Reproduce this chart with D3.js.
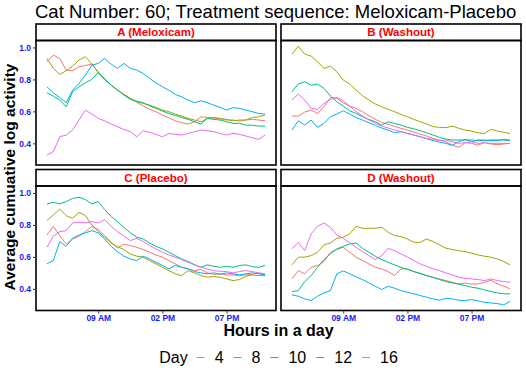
<!DOCTYPE html>
<html>
<head>
<meta charset="utf-8">
<title>Cat 60 activity</title>
<script src="https://cdn.jsdelivr.net/npm/d3@7"></script>
<style>
body { margin: 0; background: #fff; }
svg { font-family: "Liberation Sans", Arial, sans-serif; }
</style>
</head>
<body>
<svg id="chart" width="526" height="372"></svg>
<script>
// half-hourly readings, 05:00 to 22:00
const hours = [5, 5.5, 6, 6.5, 7, 7.5, 8, 8.5, 9, 9.5, 10, 10.5, 11, 11.5, 12, 12.5, 13, 13.5,
  14, 14.5, 15, 15.5, 16, 16.5, 17, 17.5, 18, 18.5, 19, 19.5, 20, 20.5, 21, 21.5, 22];
const days = ["4", "8", "10", "12", "16"];
const dayColours = ["#F8766D", "#A3A500", "#00BF7D", "#00B0F6", "#E76BF3"];
const panelTitles = ["A (Meloxicam)", "B (Washout)", "C (Placebo)", "D (Washout)"];
const hourTicks = [9, 14, 19];
const hourTickLabels = ["09 AM", "02 PM", "07 PM"];
const yTicks = [0.4, 0.6, 0.8, 1.0];

// one row per day, same order as days
const valuesA = [
  [0.910,0.952,0.931,0.858,0.854,0.879,0.887,0.896,0.848,0.800,0.764,0.733,0.706,0.681,0.656,0.635,0.614,0.598,0.577,0.560,0.541,0.529,0.521,0.535,0.566,0.562,0.558,0.554,0.546,0.546,0.539,0.546,0.550,0.546,0.541],
  [0.931,0.869,0.831,0.854,0.883,0.921,0.942,0.896,0.841,0.800,0.764,0.733,0.706,0.681,0.660,0.650,0.639,0.625,0.608,0.598,0.583,0.571,0.556,0.546,0.535,0.556,0.562,0.556,0.550,0.541,0.546,0.546,0.562,0.566,0.577],
  [0.716,0.696,0.671,0.629,0.723,0.754,0.779,0.800,0.843,0.806,0.764,0.733,0.702,0.675,0.664,0.654,0.635,0.619,0.602,0.587,0.575,0.562,0.550,0.535,0.521,0.556,0.550,0.546,0.535,0.525,0.525,0.514,0.514,0.508,0.508],
  [0.754,0.716,0.687,0.654,0.733,0.775,0.827,0.889,0.900,0.931,0.896,0.869,0.900,0.869,0.858,0.837,0.806,0.779,0.754,0.733,0.706,0.691,0.671,0.654,0.666,0.654,0.639,0.625,0.608,0.623,0.619,0.608,0.598,0.587,0.583],
  [0.327,0.348,0.441,0.452,0.483,0.546,0.608,0.583,0.556,0.541,0.521,0.504,0.487,0.473,0.441,0.479,0.469,0.456,0.441,0.462,0.456,0.452,0.462,0.473,0.483,0.479,0.473,0.462,0.452,0.462,0.456,0.446,0.435,0.425,0.452]
];
const valuesB = [
  [0.571,0.571,0.596,0.608,0.587,0.629,0.687,0.681,0.654,0.633,0.619,0.598,0.573,0.550,0.531,0.519,0.506,0.494,0.483,0.471,0.458,0.446,0.431,0.421,0.410,0.389,0.375,0.404,0.400,0.389,0.404,0.396,0.392,0.396,0.400],
  [0.958,1.008,0.958,0.946,0.910,0.869,0.883,0.848,0.796,0.771,0.733,0.698,0.671,0.646,0.629,0.612,0.598,0.581,0.566,0.550,0.535,0.521,0.504,0.500,0.498,0.508,0.494,0.483,0.477,0.466,0.462,0.487,0.477,0.469,0.462],
  [0.723,0.771,0.785,0.764,0.771,0.744,0.696,0.660,0.633,0.604,0.587,0.566,0.550,0.535,0.514,0.535,0.525,0.514,0.500,0.491,0.479,0.466,0.452,0.437,0.427,0.421,0.421,0.421,0.421,0.417,0.417,0.421,0.421,0.421,0.417],
  [0.483,0.541,0.514,0.546,0.500,0.525,0.566,0.583,0.604,0.583,0.562,0.546,0.529,0.512,0.496,0.483,0.466,0.473,0.462,0.452,0.441,0.429,0.417,0.408,0.400,0.387,0.410,0.425,0.410,0.421,0.421,0.417,0.417,0.425,0.421],
  [0.671,0.708,0.671,0.619,0.612,0.650,0.675,0.687,0.666,0.633,0.598,0.571,0.546,0.525,0.508,0.496,0.483,0.473,0.462,0.452,0.441,0.431,0.425,0.417,0.421,0.410,0.400,0.404,0.410,0.400,0.404,0.400,0.400,0.400,0.400]
];
const valuesC = [
  [0.737,0.791,0.733,0.681,0.712,0.729,0.758,0.791,0.771,0.733,0.691,0.656,0.679,0.671,0.660,0.646,0.629,0.612,0.598,0.577,0.556,0.535,0.525,0.514,0.521,0.500,0.491,0.494,0.487,0.487,0.483,0.487,0.491,0.500,0.487],
  [0.827,0.862,0.900,0.858,0.841,0.879,0.858,0.800,0.758,0.723,0.687,0.664,0.646,0.619,0.604,0.598,0.577,0.556,0.535,0.514,0.494,0.483,0.514,0.500,0.483,0.473,0.477,0.473,0.462,0.452,0.458,0.479,0.487,0.483,0.483],
  [0.931,0.942,0.931,0.946,0.966,0.973,0.958,0.931,0.946,0.896,0.854,0.821,0.785,0.750,0.723,0.712,0.687,0.666,0.650,0.629,0.608,0.587,0.571,0.552,0.535,0.550,0.541,0.535,0.541,0.535,0.546,0.550,0.539,0.535,0.546],
  [0.556,0.577,0.696,0.666,0.716,0.737,0.750,0.764,0.750,0.712,0.666,0.633,0.604,0.587,0.577,0.604,0.587,0.566,0.546,0.525,0.546,0.535,0.525,0.508,0.500,0.494,0.500,0.491,0.500,0.494,0.487,0.494,0.500,0.494,0.487],
  [0.660,0.729,0.758,0.764,0.812,0.817,0.812,0.821,0.812,0.833,0.791,0.758,0.729,0.702,0.716,0.696,0.671,0.650,0.629,0.612,0.598,0.583,0.566,0.550,0.535,0.525,0.514,0.510,0.508,0.500,0.508,0.514,0.508,0.500,0.494]
];
const valuesD = [
  [0.462,0.514,0.494,0.535,0.546,0.571,0.629,0.646,0.660,0.629,0.598,0.577,0.556,0.535,0.525,0.508,0.483,0.525,0.525,0.508,0.498,0.483,0.473,0.462,0.452,0.441,0.431,0.437,0.429,0.431,0.441,0.454,0.431,0.417,0.400],
  [0.550,0.598,0.598,0.608,0.629,0.675,0.687,0.716,0.723,0.744,0.791,0.779,0.779,0.779,0.785,0.754,0.733,0.727,0.712,0.691,0.691,0.712,0.696,0.675,0.654,0.646,0.639,0.633,0.623,0.612,0.604,0.598,0.587,0.571,0.550],
  [0.383,0.389,0.446,0.483,0.535,0.583,0.619,0.650,0.666,0.681,0.687,0.654,0.629,0.604,0.583,0.566,0.550,0.535,0.521,0.508,0.494,0.483,0.471,0.458,0.446,0.437,0.429,0.421,0.410,0.404,0.394,0.383,0.375,0.369,0.369],
  [0.362,0.354,0.337,0.327,0.354,0.375,0.389,0.494,0.512,0.494,0.475,0.458,0.437,0.416,0.396,0.416,0.404,0.389,0.379,0.369,0.358,0.348,0.337,0.329,0.341,0.337,0.329,0.327,0.333,0.325,0.316,0.312,0.308,0.300,0.321],
  [0.650,0.691,0.639,0.744,0.791,0.812,0.785,0.737,0.716,0.687,0.660,0.633,0.608,0.583,0.608,0.654,0.639,0.619,0.598,0.577,0.556,0.541,0.525,0.514,0.500,0.487,0.473,0.466,0.462,0.458,0.452,0.462,0.452,0.446,0.441]
];

const svg = d3.select("#chart");

// panel grid
const panelW = 240, panelH = 124.5, stripH = 16.5;
const colX = [36, 281], rowY = [24, 169.5];
const panelValues = [valuesA, valuesB, valuesC, valuesD];

// scales with 5% padding like ggplot
const hSpan = hours[hours.length - 1] - hours[0];
const x = d3.scaleLinear()
  .domain([hours[0] - hSpan * 0.05, hours[hours.length - 1] + hSpan * 0.05])
  .range([0, panelW]);
const [lo, hi] = d3.extent(panelValues.flat(2));
const pad = (hi - lo) * 0.05;
const y = d3.scaleLinear().domain([lo - pad, hi + pad]).range([panelH, 0]);

const line = d3.line()
  .x((d, i) => x(hours[i]))
  .y(d => y(d));

// title
svg.append("text")
  .attr("x", 35).attr("y", 17.5)
  .attr("font-size", 18.5)
  .text("Cat Number: 60; Treatment sequence: Meloxicam-Placebo");

panelValues.forEach((vals, p) => {
  const col = p % 2, row = Math.floor(p / 2);
  const g = svg.append("g").attr("transform", `translate(${colX[col]},${rowY[row]})`);

  // strip
  g.append("rect")
    .attr("width", panelW).attr("height", stripH)
    .attr("fill", "#fff").attr("stroke", "#000").attr("stroke-width", 1.6);
  g.append("text")
    .attr("x", panelW / 2).attr("y", stripH / 2 + 4)
    .attr("text-anchor", "middle")
    .attr("font-size", 11.5).attr("font-weight", "bold")
    .attr("fill", "#FF0000")
    .text(panelTitles[p]);

  const plot = g.append("g").attr("transform", `translate(0,${stripH})`);

  vals.forEach((series, k) => {
    plot.append("path")
      .datum(series)
      .attr("d", line)
      .attr("fill", "none")
      .attr("stroke", dayColours[k])
      .attr("stroke-width", 1);
  });

  plot.append("rect")
    .attr("width", panelW).attr("height", panelH)
    .attr("fill", "none").attr("stroke", "#000").attr("stroke-width", 1.6);

  if (col === 0) {
    const ay = plot.append("g")
      .call(d3.axisLeft(y).tickValues(yTicks).tickFormat(d3.format(".1f")).tickSize(3).tickPadding(2));
    ay.select(".domain").remove();
    ay.selectAll("line").attr("stroke", "#333");
    ay.selectAll("text")
      .attr("font-size", 8.5).attr("font-weight", "bold")
      .attr("fill", "#1A1AFF").attr("font-family", "Liberation Sans, Arial, sans-serif");
  }
  if (row === 1) {
    const ax = plot.append("g")
      .attr("transform", `translate(0,${panelH})`)
      .call(d3.axisBottom(x).tickValues(hourTicks)
        .tickFormat((d, i) => hourTickLabels[i]).tickSize(3).tickPadding(1.5));
    ax.select(".domain").remove();
    ax.selectAll("line").attr("stroke", "#333");
    ax.selectAll("text")
      .attr("font-size", 8.5).attr("font-weight", "bold")
      .attr("fill", "#1A1AFF").attr("font-family", "Liberation Sans, Arial, sans-serif");
  }
});

// axis titles
svg.append("text")
  .attr("transform", "translate(15,177) rotate(-90)")
  .attr("text-anchor", "middle")
  .attr("font-size", 15.5).attr("font-weight", "bold")
  .text("Average cumuative log activity");

svg.append("text")
  .attr("x", 278.5).attr("y", 335.5)
  .attr("text-anchor", "middle")
  .attr("font-size", 16).attr("font-weight", "bold")
  .text("Hours in a day");

// legend
const legend = svg.append("g");
let lx = 0;
const dayLabel = legend.append("text").attr("x", 0).attr("y", 0)
  .attr("font-size", 16).text("Day");
lx = dayLabel.node().getComputedTextLength() + 9;
days.forEach((d, k) => {
  legend.append("line")
    .attr("x1", lx).attr("x2", lx + 8)
    .attr("y1", -5.5).attr("y2", -5.5)
    .attr("stroke", dayColours[k]).attr("stroke-width", 1);
  lx += 18;
  const t = legend.append("text").attr("x", lx).attr("y", 0)
    .attr("font-size", 16).text(d);
  lx += t.node().getComputedTextLength() + 10;
});
const legendW = lx - 10;
legend.attr("transform", `translate(${278.5 - legendW / 2},363)`);
</script>
</body>
</html>
